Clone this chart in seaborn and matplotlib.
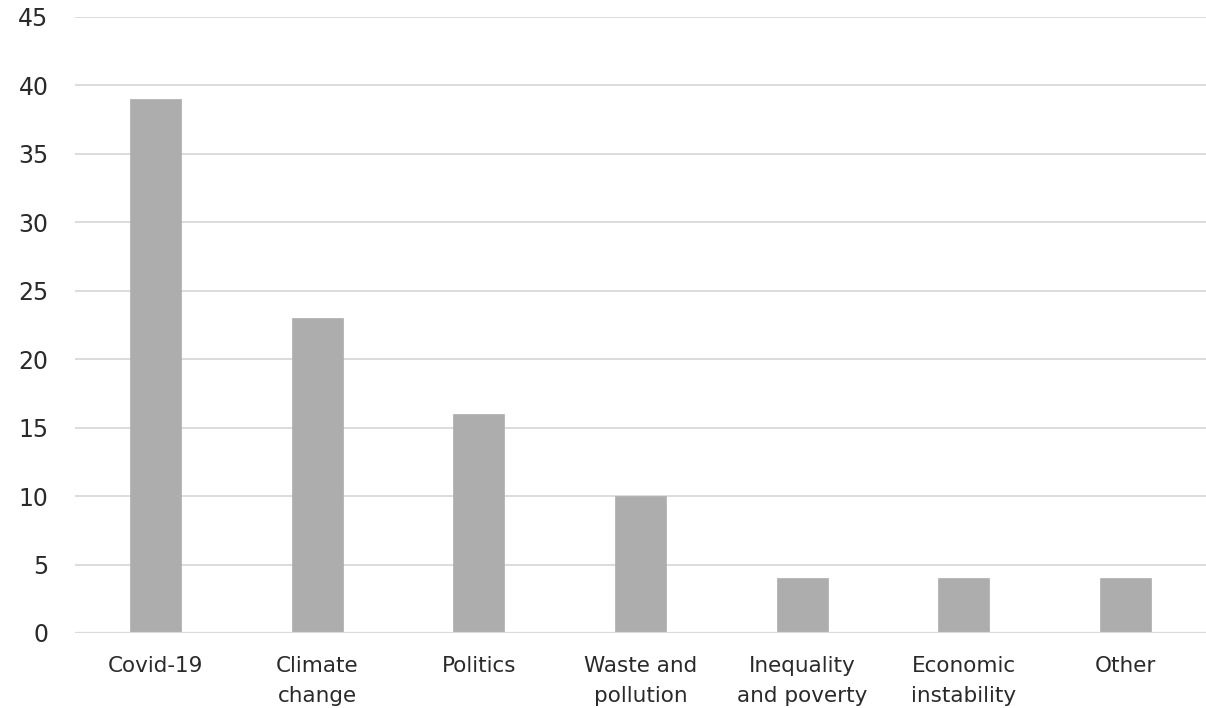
import matplotlib
matplotlib.use("Agg")
import matplotlib.pyplot as plt
import seaborn as sns
import pandas as pd

categories = ["Covid-19", "Climate\nchange", "Politics", "Waste and\npollution",
              "Inequality\nand poverty", "Economic\ninstability", "Other"]
values = [39, 23, 16, 10, 4, 4, 4]
y_ticks = [0, 5, 10, 15, 20, 25, 30, 35, 40, 45]

sns.set_theme(style="white")
plt.rcParams["font.family"] = ["DejaVu Sans"]

df = pd.DataFrame({"topic": categories, "count": values})

fig = plt.figure(figsize=(12.06, 7.08), dpi=100)
ax = fig.add_axes([0.0622, 0.106, 0.9378, 0.870])

sns.barplot(data=df, x="topic", y="count", color="#ADADAD", saturation=1,
            width=0.316, ax=ax, zorder=3, edgecolor="#ADADAD", linewidth=0.5)

ax.set_ylim(0, 45)
ax.set_xlim(-0.5, len(categories) - 0.5)
ax.set_yticks(y_ticks)
ax.yaxis.grid(True, color="#D9D9D9", linewidth=1.3, zorder=0)
ax.xaxis.grid(False)
for s in ax.spines.values():
    s.set_visible(False)
ax.axhline(0, color="#D9D9D9", linewidth=1.6, zorder=4)

ax.set_xlabel("")
ax.set_ylabel("")
ax.tick_params(axis="y", length=0, pad=19, labelsize=17, labelcolor="#2a2a2a")
ax.tick_params(axis="x", length=0, pad=16.5, labelsize=15.5, labelcolor="#2a2a2a")
for lbl in ax.get_xticklabels():
    lbl.set_linespacing(1.65)

fig.savefig("out.png", dpi=100, facecolor="white")
